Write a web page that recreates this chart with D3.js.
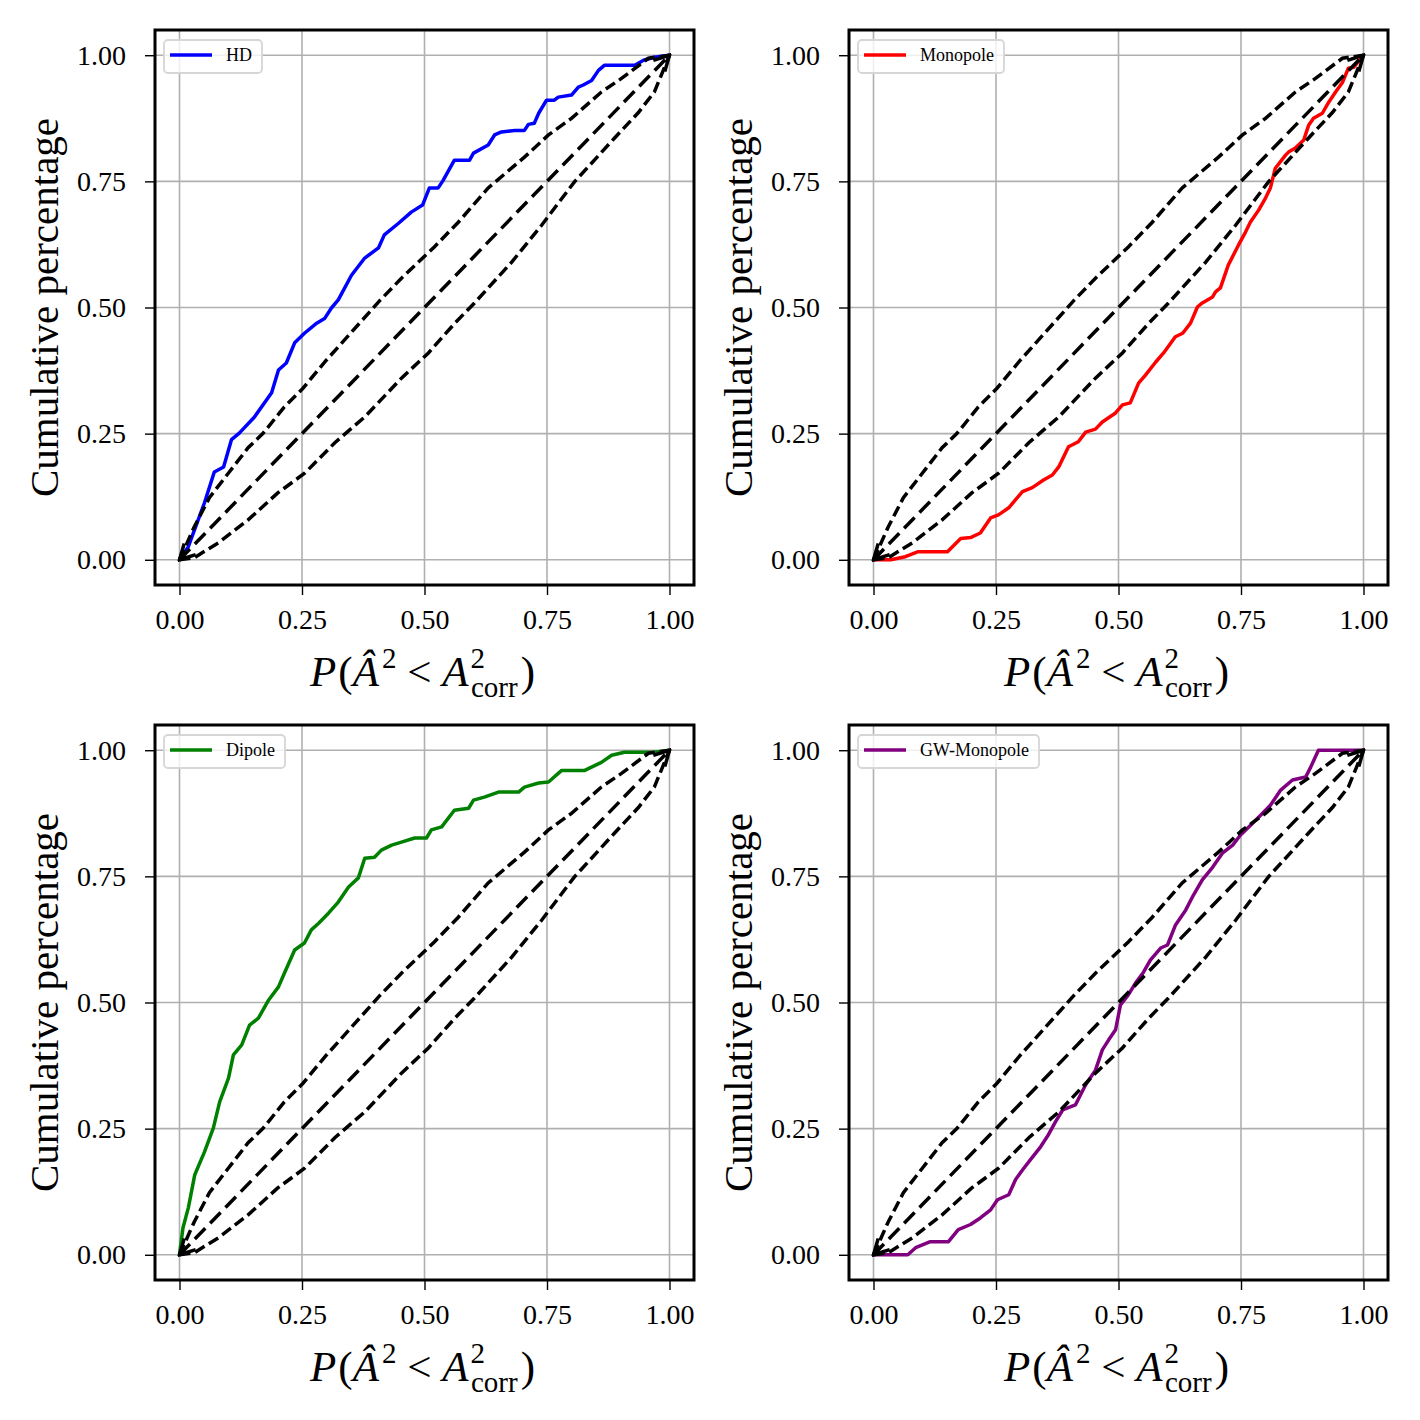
<!DOCTYPE html>
<html lang="en">
    <head>
        <meta charset="utf-8">
        <style>
            body { margin: 0; background: #fff; }
            text { font-family: "Liberation Serif", "DejaVu Serif", serif; }
            .grid line { stroke: #b0b0b0; stroke-width: 1.6; }
            .bound { fill: none; stroke: #000; stroke-width: 3.5; stroke-dasharray: 11,5; }
        </style>
        <script src="https://d3js.org/d3.v7.min.js"></script>
    </head>
    <body>
        <svg width="1420" height="1420"></svg>
        <script>
            // tick values shared by both axes
            var ticks = [0, 0.25, 0.5, 0.75, 1];

            // credible band (same in every panel)
            var boundUpper = [[0,0],[0.03,0.065],[0.061,0.123],[0.1,0.172],[0.14,0.222],[0.17,0.25],[0.214,0.303],[0.252,0.34],
                [0.3,0.396],[0.35,0.45],[0.41,0.515],[0.453,0.558],[0.52,0.62],[0.569,0.669],[0.63,0.737],[0.704,0.798],
                [0.753,0.842],[0.8,0.875],[0.861,0.927],[0.902,0.954],[0.957,0.994],[1,1]];
            var boundLower = [[0,0],[0.03,0.004],[0.08,0.034],[0.14,0.079],[0.2,0.132],[0.256,0.172],[0.317,0.232],[0.378,0.283],
                [0.453,0.36],[0.508,0.41],[0.562,0.469],[0.602,0.509],[0.678,0.59],[0.739,0.663],[0.806,0.749],[0.888,0.836],
                [0.937,0.887],[0.969,0.927],[1,1]];

            var hdCurve = [[0,0],[0.018,0.026],[0.051,0.113],[0.071,0.174],[0.09,0.184],[0.106,0.238],[0.122,0.251],[0.153,0.283],
                [0.188,0.331],[0.202,0.376],[0.218,0.39],[0.235,0.43],[0.255,0.449],[0.28,0.469],[0.296,0.478],[0.31,0.499],
                [0.324,0.515],[0.351,0.564],[0.378,0.598],[0.406,0.618],[0.418,0.644],[0.447,0.667],[0.473,0.689],[0.496,0.703],
                [0.51,0.737],[0.528,0.737],[0.538,0.752],[0.561,0.792],[0.592,0.792],[0.6,0.806],[0.63,0.822],[0.643,0.842],
                [0.657,0.848],[0.684,0.851],[0.704,0.851],[0.712,0.863],[0.724,0.865],[0.733,0.885],[0.749,0.911],[0.765,0.911],
                [0.773,0.917],[0.8,0.921],[0.814,0.937],[0.824,0.941],[0.841,0.95],[0.855,0.97],[0.867,0.98],[0.929,0.98],
                [0.947,0.99],[0.969,0.996],[1,1]];

            var monopoleCurve = [[0,0],[0.035,0],[0.065,0.006],[0.086,0.014],[0.09,0.016],[0.151,0.016],[0.178,0.042],[0.198,0.044],
                [0.218,0.053],[0.239,0.083],[0.255,0.089],[0.276,0.103],[0.29,0.119],[0.304,0.135],[0.324,0.143],[0.347,0.158],
                [0.365,0.168],[0.378,0.184],[0.398,0.224],[0.418,0.234],[0.433,0.253],[0.453,0.259],[0.467,0.273],[0.494,0.291],
                [0.508,0.307],[0.524,0.311],[0.541,0.35],[0.555,0.366],[0.576,0.392],[0.592,0.41],[0.616,0.442],[0.631,0.449],
                [0.647,0.469],[0.661,0.501],[0.671,0.509],[0.692,0.521],[0.698,0.531],[0.708,0.539],[0.724,0.584],[0.745,0.624],
                [0.759,0.649],[0.769,0.669],[0.786,0.693],[0.8,0.717],[0.81,0.737],[0.82,0.776],[0.841,0.802],[0.847,0.808],
                [0.861,0.816],[0.878,0.832],[0.888,0.861],[0.898,0.875],[0.916,0.885],[0.929,0.907],[0.943,0.927],[0.957,0.946],
                [0.969,0.974],[0.98,0.976],[1,1]];

            var dipoleCurve = [[0,0],[0.007,0.053],[0.018,0.093],[0.031,0.158],[0.051,0.204],[0.069,0.251],[0.082,0.303],[0.1,0.35],
                [0.11,0.396],[0.127,0.416],[0.143,0.455],[0.161,0.469],[0.182,0.505],[0.202,0.531],[0.214,0.558],[0.235,0.604],
                [0.255,0.618],[0.269,0.644],[0.284,0.657],[0.304,0.677],[0.324,0.699],[0.345,0.729],[0.365,0.747],[0.378,0.786],
                [0.398,0.788],[0.412,0.802],[0.433,0.812],[0.453,0.818],[0.48,0.826],[0.504,0.826],[0.514,0.842],[0.535,0.848],
                [0.561,0.881],[0.59,0.885],[0.6,0.901],[0.622,0.907],[0.651,0.917],[0.692,0.917],[0.704,0.927],[0.733,0.935],
                [0.753,0.937],[0.78,0.96],[0.827,0.96],[0.861,0.976],[0.882,0.99],[0.908,0.996],[0.969,0.996],[1,1]];

            var gwMonopoleCurve = [[0,0],[0.07,0],[0.086,0.014],[0.116,0.026],[0.153,0.026],[0.173,0.05],[0.198,0.06],[0.218,0.073],
                [0.239,0.089],[0.253,0.109],[0.276,0.119],[0.29,0.149],[0.304,0.168],[0.32,0.188],[0.341,0.214],[0.357,0.238],
                [0.371,0.263],[0.386,0.287],[0.412,0.297],[0.433,0.337],[0.453,0.366],[0.467,0.406],[0.48,0.426],[0.494,0.446],
                [0.504,0.495],[0.52,0.515],[0.535,0.539],[0.551,0.56],[0.565,0.584],[0.586,0.608],[0.6,0.614],[0.616,0.653],
                [0.637,0.683],[0.653,0.713],[0.671,0.743],[0.692,0.768],[0.712,0.796],[0.733,0.812],[0.749,0.832],[0.769,0.851],
                [0.79,0.871],[0.81,0.891],[0.831,0.921],[0.855,0.941],[0.882,0.947],[0.892,0.966],[0.908,1],[0.953,1],[1,1]];

            var panelNames = ["HD", "Monopole", "Dipole", "GW-Monopole"];
            var panelColors = ["#0000ff", "#ff0000", "#008000", "#800080"];
            var panelCurves = [hdCurve, monopoleCurve, dipoleCurve, gwMonopoleCurve];

            var svg = d3.select("svg");
            var panelW = 539, panelH = 555;
            var lefts = [155, 849], tops = [30, 725];

            // open arrow head for the diagonal
            svg.append("defs").append("marker")
                .attr("id", "arrow")
                .attr("viewBox", "0 0 20 20")
                .attr("refX", 18).attr("refY", 10)
                .attr("markerWidth", 20).attr("markerHeight", 20)
                .attr("markerUnits", "userSpaceOnUse")
                .attr("orient", "auto-start-reverse")
              .append("path")
                .attr("d", "M3,2 L18,10 L3,18")
                .attr("fill", "none")
                .attr("stroke", "#000")
                .attr("stroke-width", 3.5);

            var x = d3.scaleLinear().domain([-0.05, 1.05]).range([0, panelW]);
            var y = d3.scaleLinear().domain([-0.05, 1.05]).range([panelH, 0]);
            var line = d3.line().x(function(d){ return x(d[0]); }).y(function(d){ return y(d[1]); });
            var fmt = d3.format(".2f");

            panelNames.forEach(function(name, i) {
                var g = svg.append("g")
                    .attr("transform", "translate(" + lefts[i % 2] + "," + tops[Math.floor(i / 2)] + ")");

                // grid
                var grid = g.append("g").attr("class", "grid");
                grid.selectAll(".gx").data(ticks).enter().append("line")
                    .attr("x1", function(d){ return x(d); }).attr("x2", function(d){ return x(d); })
                    .attr("y1", 0).attr("y2", panelH);
                grid.selectAll(".gy").data(ticks).enter().append("line")
                    .attr("y1", function(d){ return y(d); }).attr("y2", function(d){ return y(d); })
                    .attr("x1", 0).attr("x2", panelW);

                // axes
                var xAxis = g.append("g")
                    .attr("transform", "translate(0," + panelH + ")")
                    .call(d3.axisBottom(x).tickValues(ticks).tickFormat(fmt).tickSize(10).tickPadding(14));
                var yAxis = g.append("g")
                    .call(d3.axisLeft(y).tickValues(ticks).tickFormat(fmt).tickSize(10).tickPadding(19));
                [xAxis, yAxis].forEach(function(a) {
                    a.select(".domain").remove();
                    a.selectAll("line").attr("stroke-width", 1.4);
                    a.selectAll("text").attr("font-size", 28).attr("font-family", "Liberation Serif");
                });

                // data curve
                g.append("path")
                    .datum(panelCurves[i])
                    .attr("d", line)
                    .attr("fill", "none")
                    .attr("stroke", panelColors[i])
                    .attr("stroke-width", 3.5)
                    .attr("stroke-linejoin", "round");

                // band + diagonal
                g.append("path").datum(boundUpper).attr("class", "bound").attr("d", line);
                g.append("path").datum(boundLower).attr("class", "bound").attr("d", line);
                g.append("path").datum([[0,0],[1,1]]).attr("class", "bound")
                    .style("stroke-dasharray", "15,7")
                    .attr("d", line)
                    .attr("marker-start", "url(#arrow)")
                    .attr("marker-end", "url(#arrow)");

                // frame
                g.append("rect")
                    .attr("width", panelW).attr("height", panelH)
                    .attr("fill", "none").attr("stroke", "#000").attr("stroke-width", 3);

                // legend
                var leg = g.append("g").attr("transform", "translate(9,10)");
                var legText = leg.append("text")
                    .attr("x", 62).attr("y", 21)
                    .attr("font-size", 18)
                    .text(name);
                var tw = legText.node().getComputedTextLength();
                leg.insert("rect", "text")
                    .attr("width", 62 + tw + 10).attr("height", 33)
                    .attr("rx", 4)
                    .attr("fill", "#fff").attr("fill-opacity", 0.8)
                    .attr("stroke", "#d6d6d6").attr("stroke-width", 1.8);
                leg.append("line")
                    .attr("x1", 6).attr("x2", 48).attr("y1", 15).attr("y2", 15)
                    .attr("stroke", panelColors[i]).attr("stroke-width", 3.5);

                // y label
                g.append("text")
                    .attr("transform", "translate(-97," + (panelH / 2) + ") rotate(-90)")
                    .attr("text-anchor", "middle")
                    .attr("font-size", 41)
                    .text("Cumulative percentage");

                // x label P(Â² < A²corr)
                var xl = g.append("text")
                    .attr("x", panelW / 2 - 2).attr("y", panelH + 101)
                    .attr("text-anchor", "middle")
                    .attr("font-size", 43);
                xl.append("tspan").attr("font-style", "italic").text("P");
                xl.append("tspan").attr("dx", 2).text("(");
                xl.append("tspan").attr("font-style", "italic").text("\u00C2");
                xl.append("tspan").attr("font-size", 29).attr("dy", -18).attr("dx", 3).text("2");
                xl.append("tspan").attr("dy", 18).text(" < ");
                xl.append("tspan").attr("font-style", "italic").text("A");
                xl.append("tspan").attr("font-size", 29).attr("dy", -18).attr("dx", 2).text("2");
                xl.append("tspan").attr("font-size", 29).attr("dy", 29).attr("dx", -14).text("corr");
                xl.append("tspan").attr("dy", -11).attr("dx", 3).text(")");
            });
        </script>
    </body>
</html>
